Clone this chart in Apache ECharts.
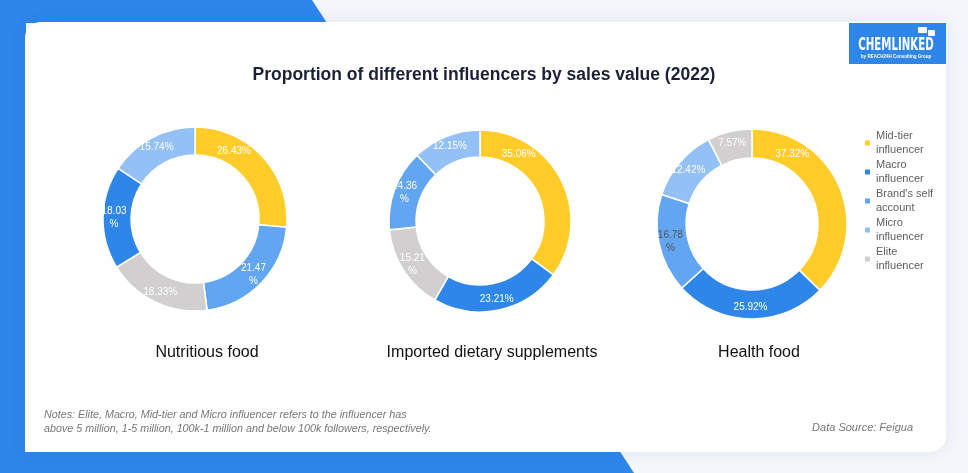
<!DOCTYPE html>
<html>
<head>
<meta charset="utf-8">
<title>Proportion of different influencers by sales value (2022)</title>
<script src="https://cdn.jsdelivr.net/npm/echarts@6/dist/echarts.min.js"></script>
<style>
  html, body { margin: 0; padding: 0; background: #f4f6fb; }
  #chart { width: 968px; height: 473px; }
</style>
</head>
<body>
<div id="chart"></div>
<script>
// legend order + colours
const categories = ['Mid-tier influencer', 'Macro influencer', "Brand's self account", 'Micro influencer', 'Elite influencer'];
const categoryColors = ['#ffcc29', '#2e86e9', '#62a5f0', '#93c0f5', '#d1cfcf'];

// slices clockwise from 12 o'clock
const nutritiousNames = ['Mid-tier influencer', "Brand's self account", 'Elite influencer', 'Macro influencer', 'Micro influencer'];
const nutritiousValues = [26.43, 21.47, 18.33, 18.03, 15.74];

const importedNames = ['Mid-tier influencer', 'Macro influencer', 'Elite influencer', "Brand's self account", 'Micro influencer'];
const importedValues = [35.06, 23.21, 15.21, 14.36, 12.15];

const healthNames = ['Mid-tier influencer', 'Macro influencer', "Brand's self account", 'Micro influencer', 'Elite influencer'];
const healthValues = [37.32, 25.92, 16.78, 12.42, 7.57];

const pieTitles = ['Nutritious food', 'Imported dietary supplements', 'Health food'];

const FONT = '"Liberation Sans", Arial, sans-serif';
const BLUE = '#2e86e9';

// layout of each donut (labels that break onto two lines, label colour)
const pies = [
  { names: nutritiousNames, values: nutritiousValues, center: [195, 219], radius: [64, 92], titleX: 207,
    wrap: [false, true, false, true, false], dark: [] },
  { names: importedNames, values: importedValues, center: [480, 221], radius: [64, 91], titleX: 492,
    wrap: [false, false, true, true, false], dark: [] },
  { names: healthNames, values: healthValues, center: [752, 224], radius: [66, 95], titleX: 759,
    wrap: [false, false, true, false, false], dark: [2] }
];

const series = pies.map(function (p) {
  return {
    type: 'pie',
    center: p.center,
    radius: p.radius,
    startAngle: 90,
    clockwise: true,
    avoidLabelOverlap: false,
    silent: true,
    itemStyle: { borderColor: '#fff', borderWidth: 1.5 },
    label: {
      show: true,
      position: 'inside',
      color: '#fff',
      fontSize: 10,
      lineHeight: 13,
      fontFamily: FONT,
      formatter: function (params) {
        const txt = params.value.toFixed(2);
        return p.wrap[params.dataIndex] ? txt + '\n%' : txt + '%';
      }
    },
    labelLine: { show: false },
    labelLayout: function (params) {
      // first (largest) label sits near the top of the ring
      if (params.dataIndex !== 0) return {};
      const rm = (p.radius[0] + p.radius[1]) / 2;
      const a = 30 * Math.PI / 180;
      return {
        x: p.center[0] + rm * Math.sin(a),
        y: p.center[1] - rm * Math.cos(a),
        align: 'center',
        verticalAlign: 'middle'
      };
    },
    data: p.names.map(function (n, i) {
      const item = {
        name: n,
        value: p.values[i],
        itemStyle: { color: categoryColors[categories.indexOf(n)] }
      };
      if (p.dark.indexOf(i) >= 0) item.label = { color: '#555' };
      return item;
    })
  };
});

const titles = [{
  text: 'Proportion of different influencers by sales value (2022)',
  left: 'center',
  top: 61,
  textStyle: { fontSize: 17.5, fontWeight: 'bold', color: '#1b2036', fontFamily: FONT }
}].concat(pies.map(function (p, i) {
  return {
    text: pieTitles[i],
    left: p.titleX,
    top: 345,
    padding: 0,
    textAlign: 'center',
    textStyle: { fontSize: 16, fontWeight: 'normal', color: '#111', fontFamily: FONT }
  };
}));

const chart = echarts.init(document.getElementById('chart'));
chart.setOption({
  backgroundColor: '#f4f6fb',
  animation: false,
  title: titles,
  legend: {
    orient: 'vertical',
    left: 858,
    top: 124,
    itemWidth: 7,
    itemHeight: 7,
    itemGap: 1,
    icon: 'rect',
    data: categories,
    formatter: function (name) {
      return name.replace(/ (\S+)$/, '\n$1');
    },
    textStyle: { fontSize: 11, lineHeight: 14, color: '#5f5f5f', fontFamily: FONT }
  },
  graphic: [
    { type: 'polygon', z: -10, shape: { points: [[0, 0], [312, 0], [327, 23], [0, 23]] }, style: { fill: BLUE } },
    { type: 'rect', z: -10, shape: { x: 0, y: 0, width: 26, height: 473 }, style: { fill: BLUE } },
    { type: 'polygon', z: -10, shape: { points: [[0, 450], [619, 450], [634, 473], [0, 473]] }, style: { fill: BLUE } },
    { type: 'rect', z: -9, shape: { x: 25, y: 22, width: 921, height: 430, r: [16, 0, 16, 0] },
      style: { fill: '#fff', shadowBlur: 18, shadowColor: 'rgba(40,70,140,0.08)' } },
    // logo
    { type: 'rect', z: -8, shape: { x: 849, y: 23, width: 97, height: 41 }, style: { fill: BLUE } },
    { type: 'rect', z: -7, shape: { x: 918, y: 27, width: 9, height: 6, r: 1 }, style: { fill: '#fff' } },
    { type: 'rect', z: -7, shape: { x: 928, y: 30, width: 7, height: 6, r: 1 }, style: { fill: '#fff' } },
    { type: 'text', z: -7, x: 896, y: 45, scaleX: 0.63,
      style: { text: 'CHEMLINKED', fill: '#fff', font: 'bold 18px "Liberation Sans Narrow", "DejaVu Sans Condensed", sans-serif',
        align: 'center', verticalAlign: 'middle', textAlign: 'center', textVerticalAlign: 'middle' } },
    { type: 'text', z: -7, x: 896, y: 56, scaleX: 0.75,
      style: { text: 'by REACH24H Consulting Group', fill: '#fff', font: 'bold 6px ' + FONT,
        align: 'center', verticalAlign: 'middle', textAlign: 'center', textVerticalAlign: 'middle' } },
    // notes
    { type: 'text', z: -7, x: 44, y: 408,
      style: { text: 'Notes: Elite, Macro, Mid-tier and Micro influencer refers to the influencer has\nabove 5 million, 1-5 million, 100k-1 million and below 100k followers, respectively.',
        fill: '#777', font: 'italic 10.75px ' + FONT, lineHeight: 14 } },
    { type: 'text', z: -7, x: 913, y: 428,
      style: { text: 'Data Source: Feigua', fill: '#777', font: 'italic 11px ' + FONT,
        align: 'right', verticalAlign: 'middle', textAlign: 'right', textVerticalAlign: 'middle' } }
  ],
  series: series
});
</script>
</body>
</html>
